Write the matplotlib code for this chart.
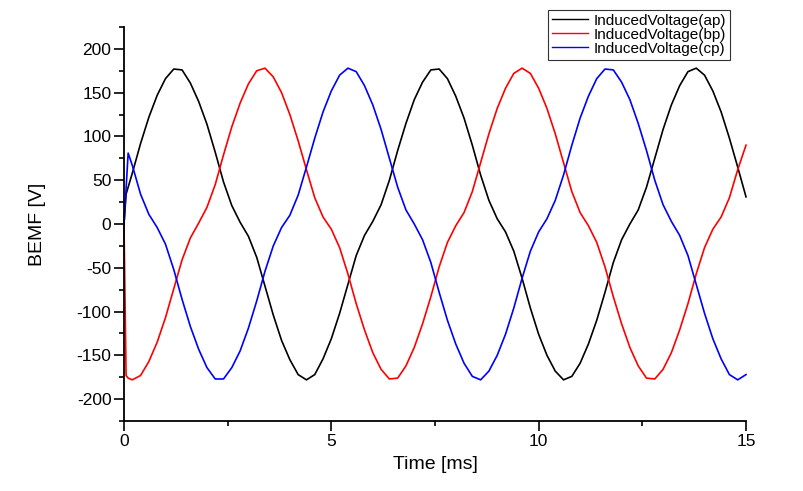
import matplotlib
matplotlib.use('Agg')
import matplotlib.pyplot as plt
from matplotlib.ticker import MultipleLocator

plt.rcParams['font.family'] = ['Liberation Sans', 'DejaVu Sans']
plt.rcParams['axes.unicode_minus'] = False

# temps [ms]
time_ms = [0, 0.05, 0.1,
           0.2, 0.4, 0.6, 0.8, 1.0, 1.2, 1.4, 1.6, 1.8, 2.0,
           2.2, 2.4, 2.6, 2.8, 3.0, 3.2, 3.4, 3.6, 3.8, 4.0,
           4.2, 4.4, 4.6, 4.8, 5.0, 5.2, 5.4, 5.6, 5.8, 6.0,
           6.2, 6.4, 6.6, 6.8, 7.0, 7.2, 7.4, 7.6, 7.8, 8.0,
           8.2, 8.4, 8.6, 8.8, 9.0, 9.2, 9.4, 9.6, 9.8, 10.0,
           10.2, 10.4, 10.6, 10.8, 11.0, 11.2, 11.4, 11.6, 11.8, 12.0,
           12.2, 12.4, 12.6, 12.8, 13.0, 13.2, 13.4, 13.6, 13.8, 14.0,
           14.2, 14.4, 14.6, 14.8, 15.0]

# tensions induites [V]
volt_ap = [0, 34, 42,
           58, 92, 122, 147, 166, 177, 176, 161, 140, 114,
           82, 48, 21, 2, -14, -38, -71, -104, -133, -155,
           -172, -178, -172, -154, -131, -102, -69, -36, -13, 3,
           22, 50, 84, 115, 142, 162, 176, 177, 166, 146,
           121, 90, 56, 27, 6, -9, -31, -62, -96, -126,
           -150, -168, -178, -174, -159, -137, -110, -78, -44, -18,
           0, 16, 42, 75, 108, 136, 158, 174, 178, 170,
           152, 128, 98, 65, 31]

volt_bp = [0, -173, -176,
           -178, -173, -157, -135, -107, -74, -41, -16, 1, 19,
           45, 79, 111, 138, 160, 175, 178, 168, 150, 125,
           95, 62, 30, 8, -6, -27, -57, -91, -121, -147,
           -166, -177, -176, -162, -141, -114, -83, -49, -21, -2,
           13, 37, 70, 103, 132, 155, 172, 178, 172, 155,
           132, 103, 70, 37, 13, -2, -21, -49, -83, -114,
           -141, -162, -176, -177, -166, -147, -121, -91, -57, -27,
           -6, 8, 30, 62, 90]

volt_cp = [0, 40, 81,
           67, 34, 11, -4, -23, -52, -86, -117, -143, -164,
           -177, -177, -164, -145, -119, -88, -54, -25, -4, 10,
           33, 65, 98, 128, 152, 170, 178, 174, 158, 136,
           108, 75, 42, 16, 0, -18, -44, -78, -110, -137,
           -159, -174, -178, -168, -150, -126, -96, -62, -31, -9,
           6, 27, 56, 90, 121, 146, 166, 177, 176, 162,
           142, 115, 84, 50, 22, 3, -13, -36, -69, -102,
           -131, -154, -172, -178, -172]

labels = ['InducedVoltage(ap)', 'InducedVoltage(bp)', 'InducedVoltage(cp)']
colors = ['black', 'red', 'blue']

fig = plt.figure(figsize=(8.04, 4.91), dpi=100)
ax = fig.add_axes([124/804, 1-421/491, 622/804, 394/491])

for v, lab, col in zip([volt_ap, volt_bp, volt_cp], labels, colors):
    ax.plot(time_ms, v, color=col, lw=1.2, label=lab, clip_on=False)

ax.set_xlim(0, 15)
ax.set_ylim(-225, 225)

# axes style Origin : seulement gauche et bas
ax.spines['top'].set_visible(False)
ax.spines['right'].set_visible(False)
for s in ['left', 'bottom']:
    ax.spines[s].set_linewidth(1.3)

ax.xaxis.set_major_locator(MultipleLocator(5))
ax.xaxis.set_minor_locator(MultipleLocator(2.5))
ax.yaxis.set_major_locator(MultipleLocator(50))
ax.yaxis.set_minor_locator(MultipleLocator(25))
ax.tick_params(which='major', direction='out', length=7, width=1.2, labelsize=12.5, pad=2)
ax.tick_params(which='minor', direction='out', length=3.5, width=1.2)

ax.set_xlabel('Time [ms]', fontsize=14)
ax.set_ylabel('BEMF [V]', fontsize=14)
ax.xaxis.set_label_coords(0.5, -0.09)
ax.yaxis.set_label_coords(-0.125, 0.5)

leg = ax.legend(loc='upper right', bbox_to_anchor=(730/804, 1-10/491),
                bbox_transform=fig.transFigure, borderaxespad=0,
                fancybox=False, framealpha=1, edgecolor='#333333',
                fontsize=11, handlelength=2.4, handletextpad=0.35,
                borderpad=0.25, labelspacing=0.0)
leg.get_frame().set_linewidth(0.8)
for line in leg.get_lines():
    line.set_linewidth(1.0)

plt.savefig('out.png', dpi=100)
